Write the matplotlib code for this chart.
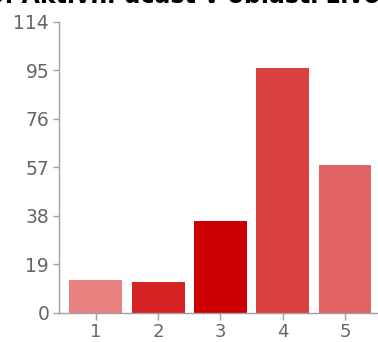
import matplotlib

matplotlib.use("Agg")

import matplotlib.pyplot as plt

plt.rcParams["font.family"] = ["DejaVu Sans"]

TITLE = "5. Aktivní účast v oblasti životního prostředí"
CATEGORIES = ["1", "2", "3", "4", "5"]
COUNTS = [13, 12, 36, 96, 58]
BAR_COLORS = ["#e88080", "#d62222", "#cc0000", "#db4040", "#e06262"]
Y_TICKS = [0, 19, 38, 57, 76, 95, 114]

AXIS_GREY = "#a0a0a0"
LABEL_GREY = "#666666"

fig = plt.figure(figsize=(3.78, 3.42), dpi=100)
ax = fig.add_axes([0.156, 0.085, 0.844, 0.851])

positions = list(range(1, len(CATEGORIES) + 1))
ax.bar(positions, COUNTS, width=0.85, color=BAR_COLORS, linewidth=0)

ax.set_xlim(0.406, 5.53)
ax.set_ylim(0, 114)
ax.set_xticks(positions)
ax.set_xticklabels(CATEGORIES)
ax.set_yticks(Y_TICKS)

for side in ("top", "right"):
    ax.spines[side].set_visible(False)
for side in ("left", "bottom"):
    ax.spines[side].set_color(AXIS_GREY)
    ax.spines[side].set_linewidth(1.0)

ax.tick_params(axis="both", direction="out", length=4, width=1.0,
               color=AXIS_GREY, labelcolor=LABEL_GREY, labelsize=13.5)
ax.tick_params(axis="x", length=5, pad=2, labelsize=13)
ax.tick_params(axis="y", pad=3)

# heading sits mostly above the canvas, only its lower half shows
fig.text(-0.033, 0.991, TITLE, fontsize=17, fontweight="bold",
         color="black", ha="left", va="baseline")

fig.savefig("out.png", dpi=100)
